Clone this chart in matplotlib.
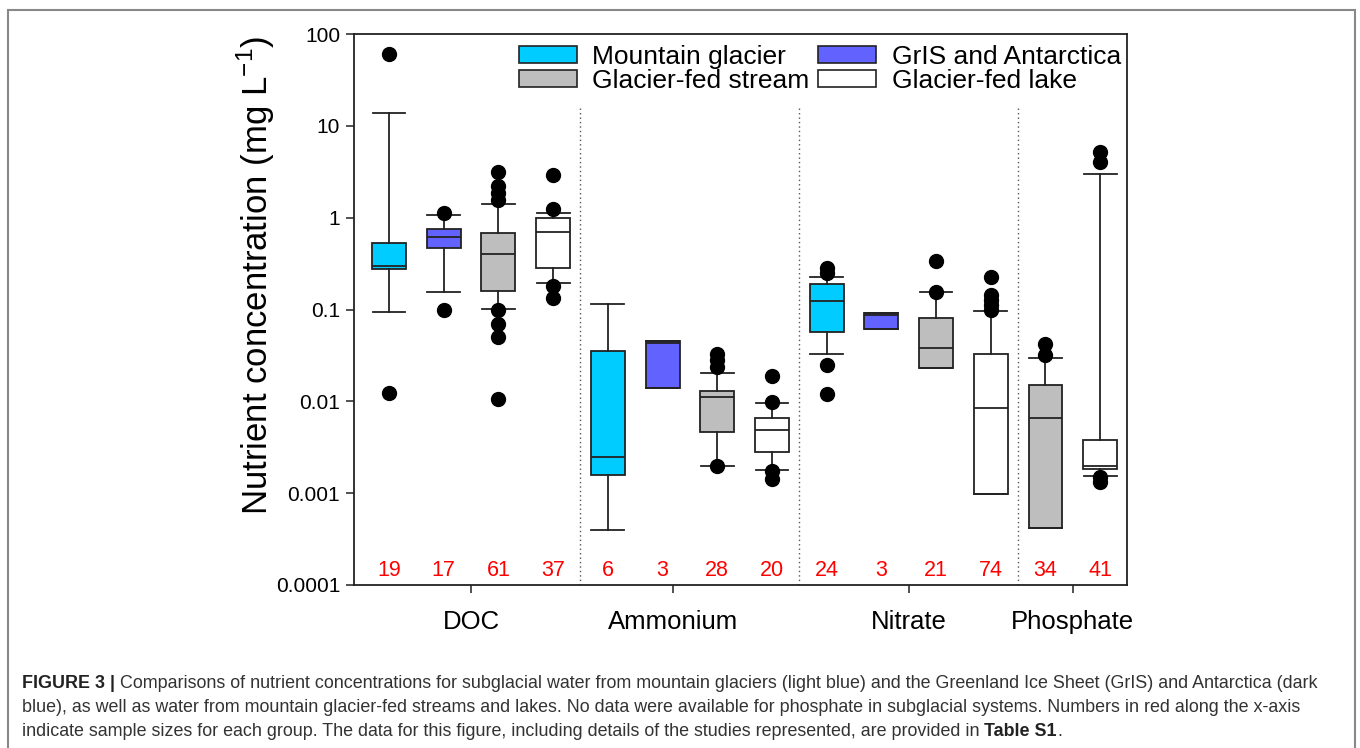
import numpy as np
import matplotlib
matplotlib.use("Agg")
import matplotlib.pyplot as plt
from matplotlib.patches import Patch, Rectangle
from matplotlib.ticker import FixedLocator, FixedFormatter, NullLocator

plt.rcParams['font.family'] = ['Liberation Sans', 'DejaVu Sans']
plt.rcParams['mathtext.fontset'] = 'custom'
plt.rcParams['mathtext.rm'] = 'Liberation Sans'

# ---------------- data ----------------
nutrients = ["DOC", "Ammonium", "Nitrate", "Phosphate"]
nutrient_tick_pos = [2.5, 6.2, 10.5, 13.5]
groups = ["MG", "GrIS", "stream", "lake",
          "MG", "GrIS", "stream", "lake",
          "MG", "GrIS", "stream", "lake",
          "stream", "lake"]
q1 = [0.274, 0.47, 0.159, 0.28, 0.00158, 0.0139, 0.00467, 0.00279,
      0.0564, 0.0608, 0.0232, 0.00098, 0.000414, 0.00183]
med = [0.30, 0.62, 0.398, 0.69, 0.00246, 0.0435, 0.0111, 0.00483,
       0.124, 0.0871, 0.0377, 0.00838, 0.00653, 0.00199]
q3 = [0.534, 0.753, 0.675, 1.0, 0.0353, 0.0454, 0.0130, 0.00653,
      0.188, 0.0923, 0.0815, 0.0324, 0.0151, 0.00379]
whislo = [0.0946, 0.154, 0.1005, 0.193, 0.000397, 0.0139, 0.00198, 0.00177,
          0.0324, 0.0608, 0.0232, 0.00098, 0.000414, 0.00154]
whishi = [13.7, 1.07, 1.40, 1.13, 0.115, 0.0454, 0.0202, 0.0097,
          0.228, 0.0923, 0.154, 0.097, 0.0294, 2.99]
fliers = [
    [60, 0.0124],
    [1.13, 0.0986],
    [3.16, 2.23, 1.84, 1.55, 0.1, 0.07, 0.05, 0.0105],
    [2.92, 1.23, 0.18, 0.135],
    [],
    [],
    [0.0327, 0.028, 0.0235, 0.00198],
    [0.019, 0.0098, 0.00175, 0.00142],
    [0.28, 0.248, 0.0248, 0.0119],
    [],
    [0.337, 0.156],
    [0.228, 0.144, 0.128, 0.112, 0.1],
    [0.042, 0.0319],
    [5.2, 4.07, 0.0015, 0.00133],
]
sample_sizes = [19, 17, 61, 37, 6, 3, 28, 20, 24, 3, 21, 74, 34, 41]
separators = [4.5, 8.5, 12.5]
yticks = [1e-4, 1e-3, 1e-2, 1e-1, 1, 10, 100]
ytick_labels = ["0.0001", "0.001", "0.01", "0.1", "1", "10", "100"]

group_colors = {"MG": "#00CCFF", "GrIS": "#6262FF", "stream": "#BEBEBE", "lake": "#FFFFFF"}
legend_labels = {"MG": "Mountain glacier", "GrIS": "GrIS and Antarctica",
                 "stream": "Glacier-fed stream", "lake": "Glacier-fed lake"}

caption_lines = [
    "Comparisons of nutrient concentrations for subglacial water from mountain glaciers (light blue) and the Greenland Ice Sheet (GrIS) and Antarctica (dark",
    "blue), as well as water from mountain glacier-fed streams and lakes. No data were available for phosphate in subglacial systems. Numbers in red along the x-axis",
    "indicate sample sizes for each group. The data for this figure, including details of the studies represented, are provided in ",
]

# ---------------- figure ----------------
fig = plt.figure(figsize=(13.6, 7.48), dpi=100)
ax = fig.add_axes([354 / 1360, 1 - 585 / 748, (1127 - 354) / 1360, (585 - 34) / 748])

positions = np.arange(1, len(groups) + 1)
stats = []
for i in range(len(groups)):
    stats.append(dict(med=med[i], q1=q1[i], q3=q3[i], whislo=whislo[i],
                      whishi=whishi[i], fliers=fliers[i]))

lw = 1.3
bp = ax.bxp(stats, positions=positions, widths=0.62, patch_artist=True,
            boxprops=dict(linewidth=lw, edgecolor="#222222"),
            medianprops=dict(color="#222222", linewidth=lw),
            whiskerprops=dict(color="#222222", linewidth=lw),
            capprops=dict(color="#222222", linewidth=lw),
            flierprops=dict(marker="o", markerfacecolor="black", markeredgecolor="black",
                            markersize=10, linestyle="none"),
            capwidths=0.6)
for patch, g in zip(bp["boxes"], groups):
    patch.set_facecolor(group_colors[g])

ax.set_yscale("log")
ax.set_ylim(1e-4, 100)
ax.set_xlim(0.36, 14.49)

ax.vlines(separators, 1e-4, 17, colors="#555555", linestyles=(0, (1, 2.2)), linewidth=1.0)

ax.yaxis.set_major_locator(FixedLocator(yticks))
ax.yaxis.set_major_formatter(FixedFormatter(ytick_labels))
ax.yaxis.set_minor_locator(NullLocator())
ax.set_xticks(nutrient_tick_pos)
ax.set_xticklabels(nutrients)
ax.tick_params(axis="y", direction="out", length=6, width=1.1, labelsize=15, pad=4, color="#222222")
ax.tick_params(axis="x", direction="out", length=6, width=1.1, labelsize=18.5, pad=12, color="#222222")
for s in ax.spines.values():
    s.set_linewidth(1.3)
    s.set_color("#222222")

ax.set_ylabel("Nutrient concentration (mg L$^{\\mathregular{-1}}$)", fontsize=25)
ax.yaxis.set_label_coords(-0.100, 0.561)

for x, n in zip(positions, sample_sizes):
    ax.text(x, 0.026, str(n), transform=ax.get_xaxis_transform(), color="#FF0000",
            fontsize=15.5, ha="center", va="center")

handles = [Patch(facecolor=group_colors[g], edgecolor="#222222", linewidth=1.2, label=legend_labels[g])
           for g in ["MG", "stream", "GrIS", "lake"]]
ax.legend(handles=handles, ncol=2, loc="upper right", bbox_to_anchor=(1.009, 1.004),
          frameon=False, fontsize=19, handlelength=2.2, handleheight=0.62,
          handletextpad=0.6, columnspacing=0.3, labelspacing=0.0, borderpad=0.0)

# figure border
fig.add_artist(Rectangle((8 / 1360, -0.05), (1355 - 8) / 1360, 1 - 10 / 748 + 0.05,
                         transform=fig.transFigure, fill=False, edgecolor="#888888",
                         linewidth=1.5, clip_on=False))

# caption
cap_x = 22 / 1360
cap_fs = 12.9
cap_color = "#333333"
line_y = [683, 707, 731]
t0 = fig.text(cap_x, 1 - line_y[0] / 748, "FIGURE 3 | ", fontsize=cap_fs, fontweight="bold",
              color="#222222", va="center", ha="left")
fig.canvas.draw()
r = fig.canvas.get_renderer()
bb = t0.get_window_extent(r)
fig.text(bb.x1 / 1360, 1 - line_y[0] / 748, caption_lines[0], fontsize=cap_fs, color=cap_color,
         va="center", ha="left")
fig.text(cap_x, 1 - line_y[1] / 748, caption_lines[1], fontsize=cap_fs, color=cap_color,
         va="center", ha="left")
t3 = fig.text(cap_x, 1 - line_y[2] / 748, caption_lines[2], fontsize=cap_fs, color=cap_color,
              va="center", ha="left")
fig.canvas.draw()
bb3 = t3.get_window_extent(r)
t4 = fig.text(bb3.x1 / 1360, 1 - line_y[2] / 748, "Table S1", fontsize=cap_fs, fontweight="bold",
              color="#222222", va="center", ha="left")
fig.canvas.draw()
bb4 = t4.get_window_extent(r)
fig.text(bb4.x1 / 1360, 1 - line_y[2] / 748, ".", fontsize=cap_fs, color=cap_color,
         va="center", ha="left")

fig.savefig("out.png", dpi=100)
